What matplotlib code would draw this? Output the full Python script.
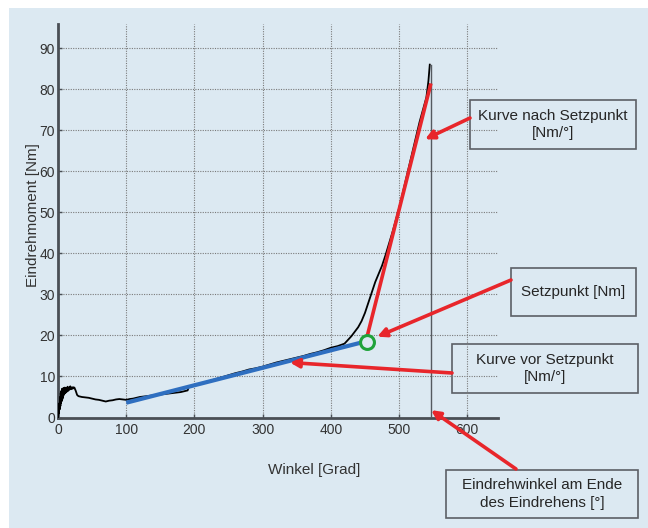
import matplotlib
matplotlib.use("Agg")
import matplotlib.pyplot as plt
from matplotlib.patches import Rectangle

plt.rcParams['font.family'] = ['Liberation Sans', 'DejaVu Sans']

# ---- data ----
angle = [0, 1, 1.5, 2, 2.5, 3, 3.5, 4, 4.5, 5, 5.5, 6, 6.5, 7, 7.5, 8, 8.5, 9, 9.5,
         10, 11, 12, 13, 14, 15, 16, 17, 18, 19, 20, 21, 22, 23, 24,
         26, 28, 30, 35, 40, 45, 50, 55, 60, 65, 70, 75, 80, 85, 90, 95, 100, 105,
         110, 115, 120, 130, 140, 150, 160, 170, 180, 185, 190, 192, 195, 200, 210,
         220, 230, 240, 250, 260, 270, 280, 290, 300, 310, 320, 330, 340, 350, 360,
         370, 380, 390, 400, 410, 420, 430, 440, 445, 450, 455, 460, 465, 470, 475,
         480, 490, 500, 510, 520, 530, 540, 543, 545]
torque = [0, 2.0, 1.0, 3.5, 2.0, 5.0, 2.8, 6.0, 3.5, 6.5, 4.0, 7.0, 4.5, 6.8, 5.0,
          7.2, 5.5, 7.0, 5.8, 7.3, 6.0, 7.2, 6.3, 7.5, 6.5, 7.3, 6.8, 7.6, 6.9,
          7.3, 7.0, 7.4, 7.1, 7.3,
          6.5, 5.5, 5.2, 5.0, 4.9, 4.8, 4.6, 4.4, 4.3,
          4.1, 3.9, 4.1, 4.2, 4.4, 4.5, 4.4, 4.3, 4.5, 4.6, 4.8, 5.0, 5.2, 5.4, 5.6,
          5.8, 6.0, 6.2, 6.4, 6.6, 7.6, 7.7, 7.9, 8.3, 8.8, 9.3, 9.8, 10.3, 10.8,
          11.2, 11.7, 12.0, 12.4, 12.9, 13.4, 13.8, 14.2, 14.6, 15.0, 15.5, 15.9,
          16.4, 17.0, 17.4, 18.0, 19.8, 22.0, 23.5, 25.5, 28.0, 30.5, 33.0, 35.0,
          37.0, 39.5, 45.0, 51.0, 58.0, 65.0, 72.0, 78.0, 82.0, 86.0]

end_angle = [547, 547]
end_torque = [0, 86]

before_x = [100, 443]
before_y = [3.6, 18.2]

after_x = [454, 546]
after_y = [20.3, 81.0]

setpoint_x = [452.5]
setpoint_y = [18.4]

x_ticks = [0, 100, 200, 300, 400, 500, 600]
y_ticks = [0, 10, 20, 30, 40, 50, 60, 70, 80, 90]

labels = ["Kurve nach Setzpunkt\n[Nm/°]", "Setzpunkt [Nm]",
          "Kurve vor Setzpunkt\n[Nm/°]", "Eindrehwinkel am Ende\ndes Eindrehens [°]"]
arrow_tips = [(538, 67.8), (468, 19.7), (340, 13.4), (547, 1.8)]

# ---- layout (figure pixels, from top) ----
W, H = 648, 528
bg = '#dce9f2'
fig = plt.figure(figsize=(6.48, 5.28), dpi=100, facecolor='white')
fig.patches.append(Rectangle((9 / W, 0), 1 - 9 / W, 1 - 8 / H, transform=fig.transFigure,
                             facecolor=bg, edgecolor='none', zorder=-10))

ax = fig.add_axes([58 / W, 1 - 417.5 / H, 440 / W, 393.9 / H])
ax.set_zorder(2)
ax.set_facecolor('none')
ax.set_xlim(0, 645)
ax.set_ylim(0, 96)
ax.set_xticks(x_ticks)
ax.set_yticks(y_ticks)
ax.grid(True, color='#7a7a7a', linestyle=(0, (1, 1.2)), linewidth=0.8)
ax.set_axisbelow(True)
for s in ['top', 'right']:
    ax.spines[s].set_visible(False)
for s in ['left', 'bottom']:
    ax.spines[s].set_color('#4a4f55')
    ax.spines[s].set_linewidth(2)
ax.tick_params(direction='in', length=3, width=1, color='#4a4f55',
               labelsize=10, labelcolor='#333333')
ax.tick_params(axis='x', pad=4)
ax.tick_params(axis='y', pad=2)

ax.plot(angle, torque, color='black', lw=1.3, zorder=3)
ax.plot(end_angle, end_torque, color='#555a60', lw=1.0, zorder=3)
ax.plot(before_x, before_y, color='#2f6fc0', lw=3, solid_capstyle='butt', zorder=4)
ax.plot(after_x, after_y, color='#e8262b', lw=2.6, zorder=4)
ax.plot(setpoint_x, setpoint_y, 'o', mfc='none', mec='#1fa33a', mew=2.2, ms=10, zorder=5)

ax.set_xlabel('Winkel [Grad]', fontsize=11, color='#333333')
ax.set_ylabel('Eindrehmoment [Nm]', fontsize=11, color='#333333')
ax.xaxis.set_label_coords((314 - 58) / 440, -(463 - 417.5) / 393.9)
ax.yaxis.set_label_coords(-(58 - 40) / 440, (417.5 - 215) / 393.9)

# annotation boxes: (x0, y0, x1, y1) in pixels from top-left
boxes = [(470, 100, 636, 149), (511, 268, 636, 316), (452, 344, 638, 393), (446, 470, 638, 518)]
tails = [(470, 118), (511, 280), (452, 373), (516, 469)]

for (x0, y0, x1, y1), lab, tail, tip in zip(boxes, labels, tails, arrow_tips):
    fig.patches.append(Rectangle((x0 / W, 1 - y1 / H), (x1 - x0) / W, (y1 - y0) / H,
                                 transform=fig.transFigure, facecolor=bg,
                                 edgecolor='#5c6066', linewidth=1.2, zorder=1))
    fig.text((x0 + x1) / 2 / W, 1 - (y0 + y1) / 2 / H, lab, ha='center', va='center',
             fontsize=11, color='#262626', linespacing=1.3, zorder=2)
    ax.annotate('', xy=tip, xycoords='data',
                xytext=(tail[0] / W, 1 - tail[1] / H), textcoords='figure fraction',
                arrowprops=dict(arrowstyle='-|>', color='#e8262b', lw=2.6,
                                mutation_scale=13, shrinkA=0, shrinkB=0),
                annotation_clip=False, zorder=6)

fig.savefig('out.png', dpi=100, facecolor='white')
